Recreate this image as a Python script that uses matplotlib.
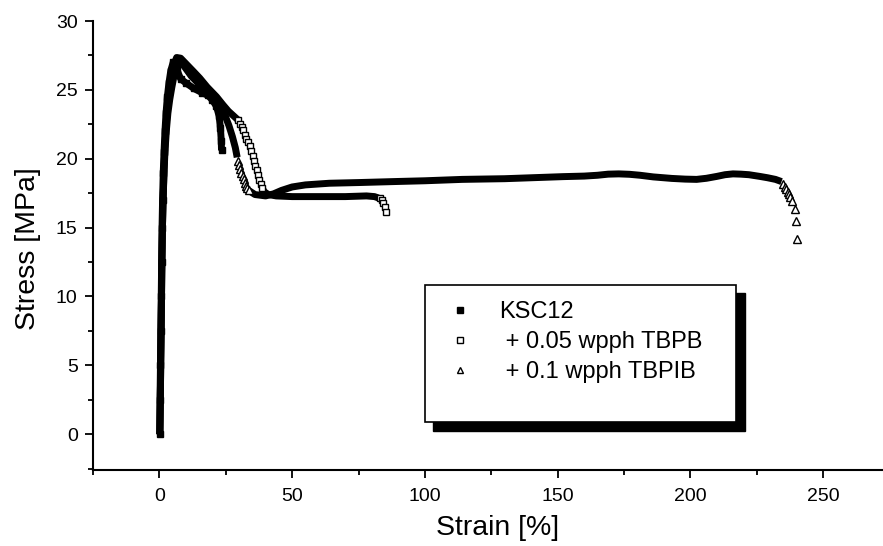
import matplotlib
matplotlib.use('Agg')
import matplotlib.pyplot as plt
from matplotlib.patches import Rectangle
from matplotlib.lines import Line2D
from matplotlib.ticker import MultipleLocator

plt.rcParams['font.family'] = ['Liberation Sans', 'DejaVu Sans']

# ---------------- data ----------------
series_labels = ['KSC12', ' + 0.05 wpph TBPB', ' + 0.1 wpph TBPIB']

# KSC12 (filled squares) - dense, continuous
ksc_strain = [0.1, 0.25, 0.4, 0.55, 0.7, 0.85, 1.0, 1.2, 1.45, 1.75, 2.1, 2.5, 3.0, 3.6, 4.3, 5.2,
              6.5, 8.0, 10.0, 13.0, 16.0, 18.3, 20.0, 21.5, 22.5, 23.0, 23.3, 23.4]
ksc_stress = [0.0, 2.5, 5.0, 7.5, 10.0, 12.5, 15.0, 17.0, 19.0, 20.5, 22.0, 23.3, 24.5, 25.5, 26.4, 27.0,
              26.5, 25.8, 25.5, 25.1, 24.8, 24.6, 24.25, 23.8, 23.1, 22.2, 21.3, 20.6]

# + 0.05 wpph TBPB (open squares)
tbpb_band1_strain = [0.2, 0.35, 0.5, 0.65, 0.8, 0.95, 1.15, 1.4, 1.7, 2.0, 2.4, 2.9, 3.4, 4.0, 4.8, 5.6, 6.5,
                     8.0, 9.5, 11.0, 13.0, 15.2, 18.0, 21.5, 24.0, 26.0, 28.0, 29.7]
tbpb_band1_stress = [0.0, 2.5, 5.0, 7.5, 10.0, 12.5, 15.0, 17.0, 19.0, 20.5, 22.0, 23.3, 24.4, 25.4, 26.3, 26.9, 27.35,
                     27.3, 27.0, 26.7, 26.3, 25.85, 25.2, 24.5, 23.9, 23.45, 23.1, 22.8]
tbpb_drop_strain = [29.7, 30.4, 31.0, 31.6, 32.2, 32.8, 33.4, 34.0, 34.6, 35.1, 35.6, 36.1, 36.6, 37.1, 37.6, 38.1, 38.6]
tbpb_drop_stress = [22.8, 22.55, 22.3, 22.05, 21.75, 21.45, 21.2, 20.9, 20.55, 20.2, 19.85, 19.5, 19.15, 18.8, 18.45, 18.15, 17.9]
tbpb_band2_strain = [38.6, 39.5, 41.0, 44.0, 50.0, 60.0, 70.0, 78.0, 81.0, 82.5]
tbpb_band2_stress = [17.9, 17.6, 17.4, 17.3, 17.25, 17.25, 17.25, 17.3, 17.25, 17.15]
tbpb_tail_strain = [83.1, 83.7, 84.3, 84.9, 85.5]
tbpb_tail_stress = [17.15, 17.0, 16.75, 16.5, 16.15]

# + 0.1 wpph TBPIB (open triangles)
tbpib_band1_strain = [0.2, 0.35, 0.5, 0.65, 0.8, 0.95, 1.15, 1.4, 1.75, 2.1, 2.6, 3.2, 3.9, 4.7, 5.5, 6.3, 7.0,
                      9.0, 12.0, 15.0, 18.0, 21.0, 23.0, 24.8, 26.2, 27.5, 28.6, 29.3]
tbpib_band1_stress = [0.0, 2.5, 5.0, 7.5, 10.0, 12.5, 15.0, 17.0, 19.0, 20.5, 22.0, 23.3, 24.3, 25.2, 26.0, 26.7, 27.2,
                      26.8, 26.0, 25.4, 24.85, 24.2, 23.75, 23.1, 22.4, 21.6, 20.8, 20.1]
tbpib_drop_strain = [29.7, 30.1, 30.5, 30.9, 31.3, 31.7, 32.1, 32.5, 33.0, 33.6]
tbpib_drop_stress = [19.85, 19.55, 19.25, 19.0, 18.75, 18.5, 18.25, 18.05, 17.85, 17.7]
tbpib_band2_strain = [33.6, 36.0, 40.0, 43.0, 46.0, 50.0, 55.0, 64.0, 75.0, 90.0, 100.0, 114.0, 130.0, 152.0,
                      160.0, 165.0, 169.0, 173.0, 177.0, 181.0, 186.0, 193.0, 198.0, 202.3, 206.0, 210.0,
                      213.0, 216.0, 219.0, 222.0, 226.0, 229.0, 232.0, 234.3]
tbpib_band2_stress = [17.7, 17.4, 17.3, 17.45, 17.7, 17.95, 18.1, 18.22, 18.27, 18.35, 18.4, 18.5, 18.55, 18.7,
                      18.74, 18.8, 18.88, 18.9, 18.87, 18.8, 18.68, 18.57, 18.52, 18.5, 18.58, 18.72,
                      18.84, 18.9, 18.88, 18.84, 18.72, 18.62, 18.5, 18.34]
tbpib_tail_strain = [235.0, 235.5, 236.1, 236.7, 237.2, 237.6, 238.4, 239.3, 239.8, 240.3]
tbpib_tail_stress = [18.15, 17.97, 17.8, 17.6, 17.42, 17.25, 16.9, 16.33, 15.5, 14.2]

x_major_ticks = [0, 50, 100, 150, 200, 250]
y_major_ticks = [0, 5, 10, 15, 20, 25, 30]

# ---------------- figure ----------------
fig = plt.figure(figsize=(8.83, 5.46), dpi=100)
ax = fig.add_axes([93 / 883, 76 / 546, 790 / 883, 449 / 546])

band_kw = dict(color='black', lw=5, solid_capstyle='butt', solid_joinstyle='round', zorder=2)
sq_open = dict(ls='none', marker='s', ms=5, mfc='white', mec='black', mew=1.0, zorder=3)
tri_open = dict(ls='none', marker='^', ms=5.5, mfc='white', mec='black', mew=1.0, zorder=3)

ax.plot(tbpb_band1_strain, tbpb_band1_stress, **band_kw)
ax.plot(tbpb_band2_strain, tbpb_band2_stress, **band_kw)
ax.plot(tbpb_drop_strain, tbpb_drop_stress, **sq_open)
ax.plot(tbpb_tail_strain, tbpb_tail_stress, **sq_open)

ax.plot(tbpib_band1_strain, tbpib_band1_stress, **band_kw)
ax.plot(tbpib_band2_strain, tbpib_band2_stress, **band_kw)
ax.plot(tbpib_drop_strain, tbpib_drop_stress, **tri_open)
ax.plot(tbpib_tail_strain, tbpib_tail_stress, **tri_open)

ax.plot(ksc_strain, ksc_stress, marker='s', ms=5, mfc='black', mec='black', **band_kw)

# axes styling
ax.set_xlim(-25, 272.5)
ax.set_ylim(-2.6, 30)
ax.spines['top'].set_visible(False)
ax.spines['right'].set_visible(False)
for s in ('left', 'bottom'):
    ax.spines[s].set_linewidth(1.5)
ax.set_xticks(x_major_ticks)
ax.set_yticks(y_major_ticks)
ax.xaxis.set_minor_locator(MultipleLocator(25))
ax.yaxis.set_minor_locator(MultipleLocator(2.5))
ax.tick_params(which='major', direction='out', length=6, width=1.3, labelsize=14)
ax.tick_params(axis='x', which='major', pad=7)
ax.tick_params(axis='y', which='major', pad=5)
ax.tick_params(which='minor', direction='out', length=3.5, width=1.3)

ax.set_xlabel('Strain [%]', fontsize=20.5)
ax.xaxis.set_label_coords(0.5127, -0.101)
ax.set_ylabel('Stress [MPa]', fontsize=20.5)
ax.yaxis.set_label_coords(-0.066, 0.494)

# legend box with solid shadow
ax.add_patch(Rectangle((0.4304, 0.0875), 0.3949, 0.3067, transform=ax.transAxes,
                       facecolor='black', edgecolor='black', zorder=5, clip_on=False))
ax.add_patch(Rectangle((0.4203, 0.1076), 0.3937, 0.3045, transform=ax.transAxes,
                       facecolor='white', edgecolor='black', lw=1.2, zorder=6, clip_on=False))

handles = [
    Line2D([], [], ls='none', marker='s', ms=4, mfc='black', mec='black', mew=1.0),
    Line2D([], [], ls='none', marker='s', ms=4, mfc='white', mec='black', mew=1.0),
    Line2D([], [], ls='none', marker='^', ms=4.5, mfc='white', mec='black', mew=1.0),
]
leg = ax.legend(handles, series_labels, loc='upper left', bbox_to_anchor=(0.4496, 0.3764),
                frameon=False, fontsize=17, handlelength=1.0, handletextpad=1.15,
                labelspacing=0.34, borderpad=0, borderaxespad=0)
leg.set_zorder(10)

fig.savefig('out.png', dpi=100)
